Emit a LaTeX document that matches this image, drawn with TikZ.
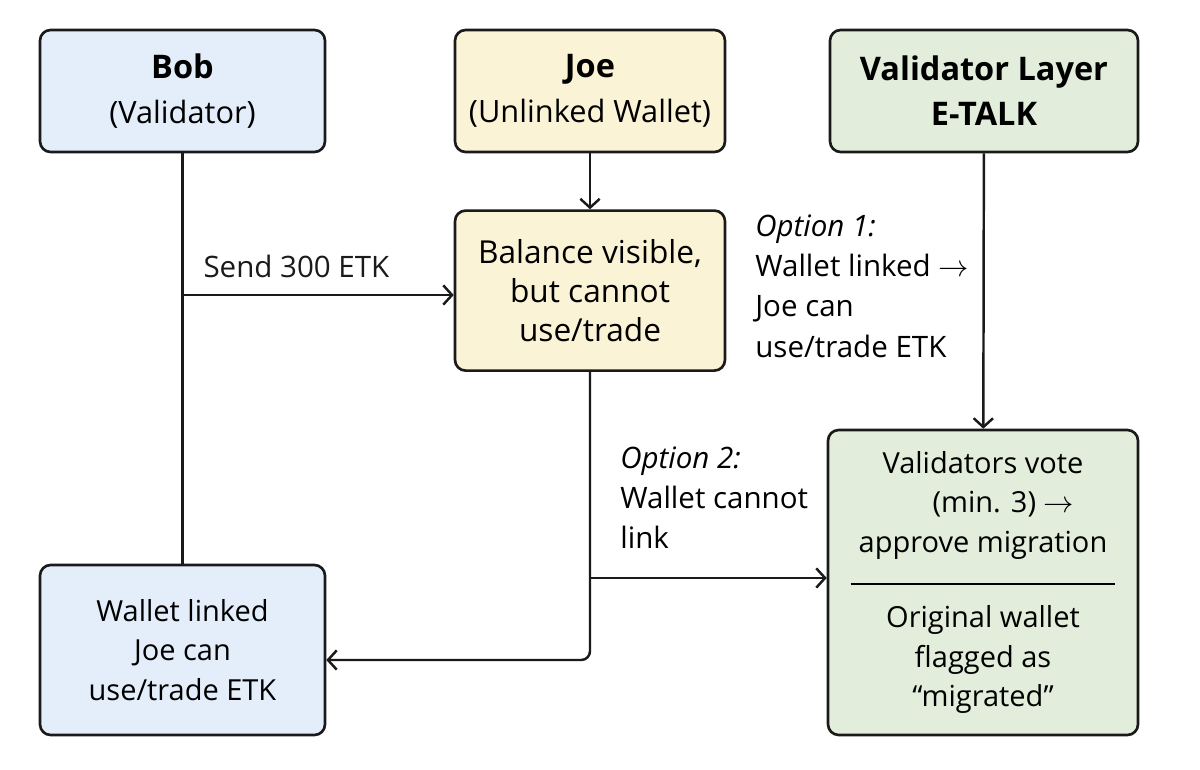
\documentclass[tikz,border=0pt]{standalone}
\usepackage{fontspec}
\setmainfont{Open Sans}
\usepackage{tikz}
\usetikzlibrary{arrows.meta,positioning}
\definecolor{inkdark}{HTML}{1A1A1A}
\definecolor{softblue}{HTML}{E3EEFA}
\definecolor{softsand}{HTML}{FBF3D6}
\definecolor{softsage}{HTML}{E2EDDB}
\newcommand{\headtxt}[1]{{\fontsize{18.5}{25.5}\selectfont\bfseries #1}}

\begin{document}
\begin{tikzpicture}[
    x=0.02cm, y=-0.02cm,
    box/.style={rectangle, draw=inkdark, line width=1.5pt, rounded corners=6pt, align=center, font=\fontsize{16.5}{22.5}\selectfont, inner sep=0pt},
    headbox/.style={box, font=\fontsize{17.5}{25.5}\selectfont},
    bluebox/.style={box, fill=softblue},
    sandbox/.style={box, fill=softsand},
    sagebox/.style={box, fill=softsage},
    note/.style={align=left, font=\fontsize{16.8}{23}\selectfont, inner sep=0pt},
    line/.style={line width=1.4pt, color=inkdark},
    arrow/.style={line, -{Straight Barb[length=5pt,width=11pt]}}
]
  \useasboundingbox (0,0) rectangle (1200,770);

  % top row
  \node[bluebox, headbox, minimum width=5.7cm, minimum height=2.44cm] (bob) at (182.5,91) {\headtxt{Bob}\\(Validator)};
  \node[sandbox, headbox, minimum width=5.4cm, minimum height=2.44cm] (joe) at (590,91) {\headtxt{Joe}\\(Unlinked Wallet)};
  \node[sagebox, headbox, minimum width=6.16cm, minimum height=2.44cm] (layer) at (984,91) {\headtxt{Validator Layer}\\\headtxt{E-TALK}};

  % middle and bottom
  \node[sandbox, font=\fontsize{18}{22}\selectfont, minimum width=5.4cm, minimum height=3.2cm, below=1.12cm of joe] (balance) {Balance visible,\\but cannot\\use/trade};
  \node[bluebox, minimum width=5.7cm, minimum height=3.4cm] (wallet) at (182.5,650) {Wallet linked\\Joe can\\use/trade ETK};
  \node[sagebox, minimum width=6.2cm, minimum height=6.1cm] (vote) at (983,582.5) {Validators vote\\\hspace*{1.4em}(min. 3) $\rightarrow$\\approve migration\\[-4pt]\rule{5.3cm}{1.1pt}\\[2pt]Original wallet\\flagged as\\“migrated”};

  % side notes
  \node[note, anchor=north west] (opt1) at (755,214) {\textit{Option 1:}\\Wallet linked $\rightarrow$\\Joe can\\use/trade ETK};
  \node[note, anchor=north west] (opt2) at (620,446) {\textit{Option 2:}\\Wallet cannot\\link};

  % connectors
  \coordinate (send) at (182.5,295);
  \coordinate (split) at (590,578);
  \coordinate (turn) at (590,660);
  \draw[line] (bob) -- (wallet);
  \draw[arrow] (send) -- node[pos=0.42, above=6pt, font=\fontsize{16.8}{20}\selectfont] (sendlbl) {Send 300 ETK} (balance.west |- send);
  \draw[arrow] (joe) -- (balance);
  \draw[arrow, rounded corners=5pt] (balance) -- (turn) -- (wallet.east |- turn);
  \draw[arrow] (split) -- (vote.west |- split);
  \draw[arrow] (layer) -- (vote);
\end{tikzpicture}
\end{document}
